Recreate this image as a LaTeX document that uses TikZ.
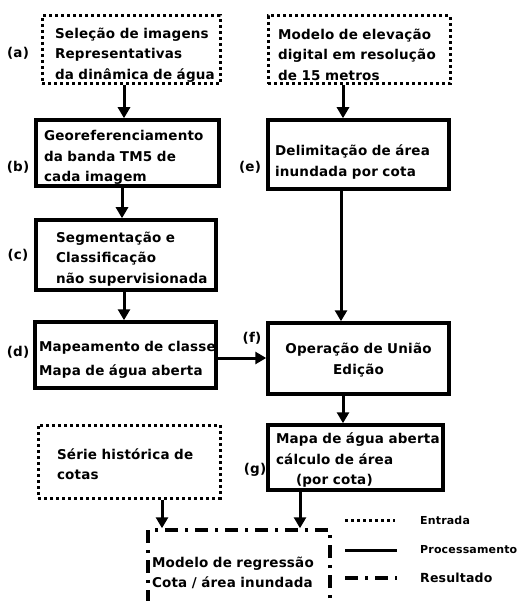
\documentclass[tikz,border=0pt]{standalone}
\usepackage{fontspec}
\setmainfont{DejaVu Sans}[LetterSpace=1.5]
\usetikzlibrary{arrows.meta}
\newcommand{\tline}[1]{\mbox{#1}}
\begin{document}
\begin{tikzpicture}[x=1pt,y=-1pt,
  txt/.style={font=\fontsize{13.5}{20.5}\selectfont\bfseries},
  lowerby/.style={execute at begin node={\rule{0pt}{\dimexpr 10pt+#1*2\relax}}},
  basebox/.style={txt, rectangle, align=left, inner ysep=0pt},
  inbox/.style={basebox, draw, line width=3pt, dash pattern=on 3pt off 3pt},
  procbox/.style={basebox, draw, line width=3.5pt},
  resbox/.style={basebox, draw, line width=3.5pt, dash pattern=on 13pt off 7pt on 3pt off 7pt},
  arr/.style={line width=3pt, -{Triangle[length=11pt,width=12pt]}},
  lab/.style={txt, inner sep=0pt},
  legtxt/.style={font=\fontsize{11}{14}\selectfont\bfseries, anchor=west, inner sep=0pt}
]
\useasboundingbox (0,0) rectangle (523,601);
\clip (0,0) rectangle (523,601);
\fill[white] (0,0) rectangle (523,601);

% input boxes
\node[inbox, lowerby=5pt, minimum width=178, minimum height=68, text width=152, inner xsep=13] (a) at (131,50)
  {\tline{Seleção de imagens}\\\tline{Representativas}\\\tline{da dinâmica de água}};
\node[inbox, lowerby=5pt, minimum width=182, minimum height=68, text width=162, inner xsep=10] (m) at (359,50)
  {\tline{Modelo de elevação}\\\tline{digital em resolução}\\\tline{de 15 metros}};
\node[inbox, lowerby=3pt, minimum width=182, minimum height=73, text width=144, inner xsep=19] (s) at (129,461.5)
  {\tline{Série histórica de}\\\tline{cotas}};

% processing boxes
\node[procbox, lowerby=4.5pt, minimum width=183, minimum height=66, text width=167, inner xsep=8] (b) at (127.5,153)
  {\tline{Georeferenciamento}\\\tline{da banda TM5 de}\\\tline{cada imagem}};
\node[procbox, lowerby=4pt, minimum width=180, minimum height=70, text width=140, inner xsep=20] (c) at (126,255)
  {\tline{Segmentação e}\\\tline{Classificação}\\\tline{não supervisionada}};
\node[procbox, lowerby=5pt, minimum width=181, minimum height=66, text width=173, inner xsep=4] (d) at (125.5,355)
  {\tline{Mapeamento de classe}\\[3pt]\tline{Mapa de água aberta}};
\node[procbox, lowerby=8pt, minimum width=181, minimum height=69, text width=167, inner xsep=7] (e) at (358.5,154.5)
  {\tline{Delimitação de área}\\\tline{inundada por cota}};
\node[procbox, minimum width=181, minimum height=71, text width=167, inner xsep=7, align=center, lowerby=2pt] (f) at (358.5,358.5)
  {\tline{Operação de União}\\\tline{Edição}};
\node[procbox, lowerby=3pt, minimum width=175, minimum height=65, text width=159, inner xsep=8] (g) at (355.5,457.5)
  {\tline{Mapa de água aberta}\\\tline{cálculo de área}\\\tline{\hspace{20pt}(por cota)}};

% result box
\node[resbox, minimum width=182, minimum height=86, text width=174, inner xsep=4] (r) at (239,573)
  {\tline{Modelo de regressão}\\\tline{Cota / área inundada}};

% labels
\node[lab] (la) at (18,53) {(a)};
\node[lab] (lb) at (18,167) {(b)};
\node[lab] (lc) at (18,255) {(c)};
\node[lab] (ld) at (18,352) {(d)};
\node[lab] (le) at (250,167) {(e)};
\node[lab] (lf) at (252,338) {(f)};
\node[lab] (lg) at (255,470) {(g)};

% connectors
\draw[arr] ([xshift=-7pt]a.south) -- ([xshift=-3.5pt]b.north);
\draw[arr] ([xshift=-5.5pt]b.south) -- ([xshift=-4pt]c.north);
\draw[arr] ([xshift=-2pt]c.south) -- ([xshift=-1.5pt]d.north);
\draw[arr] ([xshift=-16pt]m.south) -- ([xshift=-15.5pt]e.north);
\draw[arr] ([xshift=-17.5pt]e.south) -- ([xshift=-17.5pt]f.north);
\draw[arr] ([yshift=-3pt]d.east) -- ([yshift=-3pt]d.east -| f.west);
\draw[arr] ([xshift=-15.5pt]f.south) -- ([xshift=-12.5pt]g.north);
\draw[arr] ([xshift=33pt]s.south) -- ([xshift=-77pt]r.north);
\draw[arr] ([xshift=-55.5pt]g.south) -- ([xshift=61pt]r.north);

% legend
\coordinate (l1a) at (345,520); \coordinate (l1b) at (395,520);
\coordinate (l2a) at (345,550); \coordinate (l2b) at (397,550);
\coordinate (l3a) at (345,578); \coordinate (l3b) at (397,578);
\draw[line width=3pt, dash pattern=on 3pt off 3pt] (l1a) -- (l1b);
\draw[line width=3pt] (l2a) -- (l2b);
\draw[line width=3.5pt, dash pattern=on 13pt off 7pt on 3pt off 7pt] (l3a) -- (l3b);
\node[legtxt] (t1) at (420,520) {Entrada};
\node[legtxt] (t2) at (420,550) {Processamento};
\node[legtxt, font=\fontsize{12.5}{15}\selectfont\bfseries] (t3) at (420,578) {Resultado};
\end{tikzpicture}
\end{document}
